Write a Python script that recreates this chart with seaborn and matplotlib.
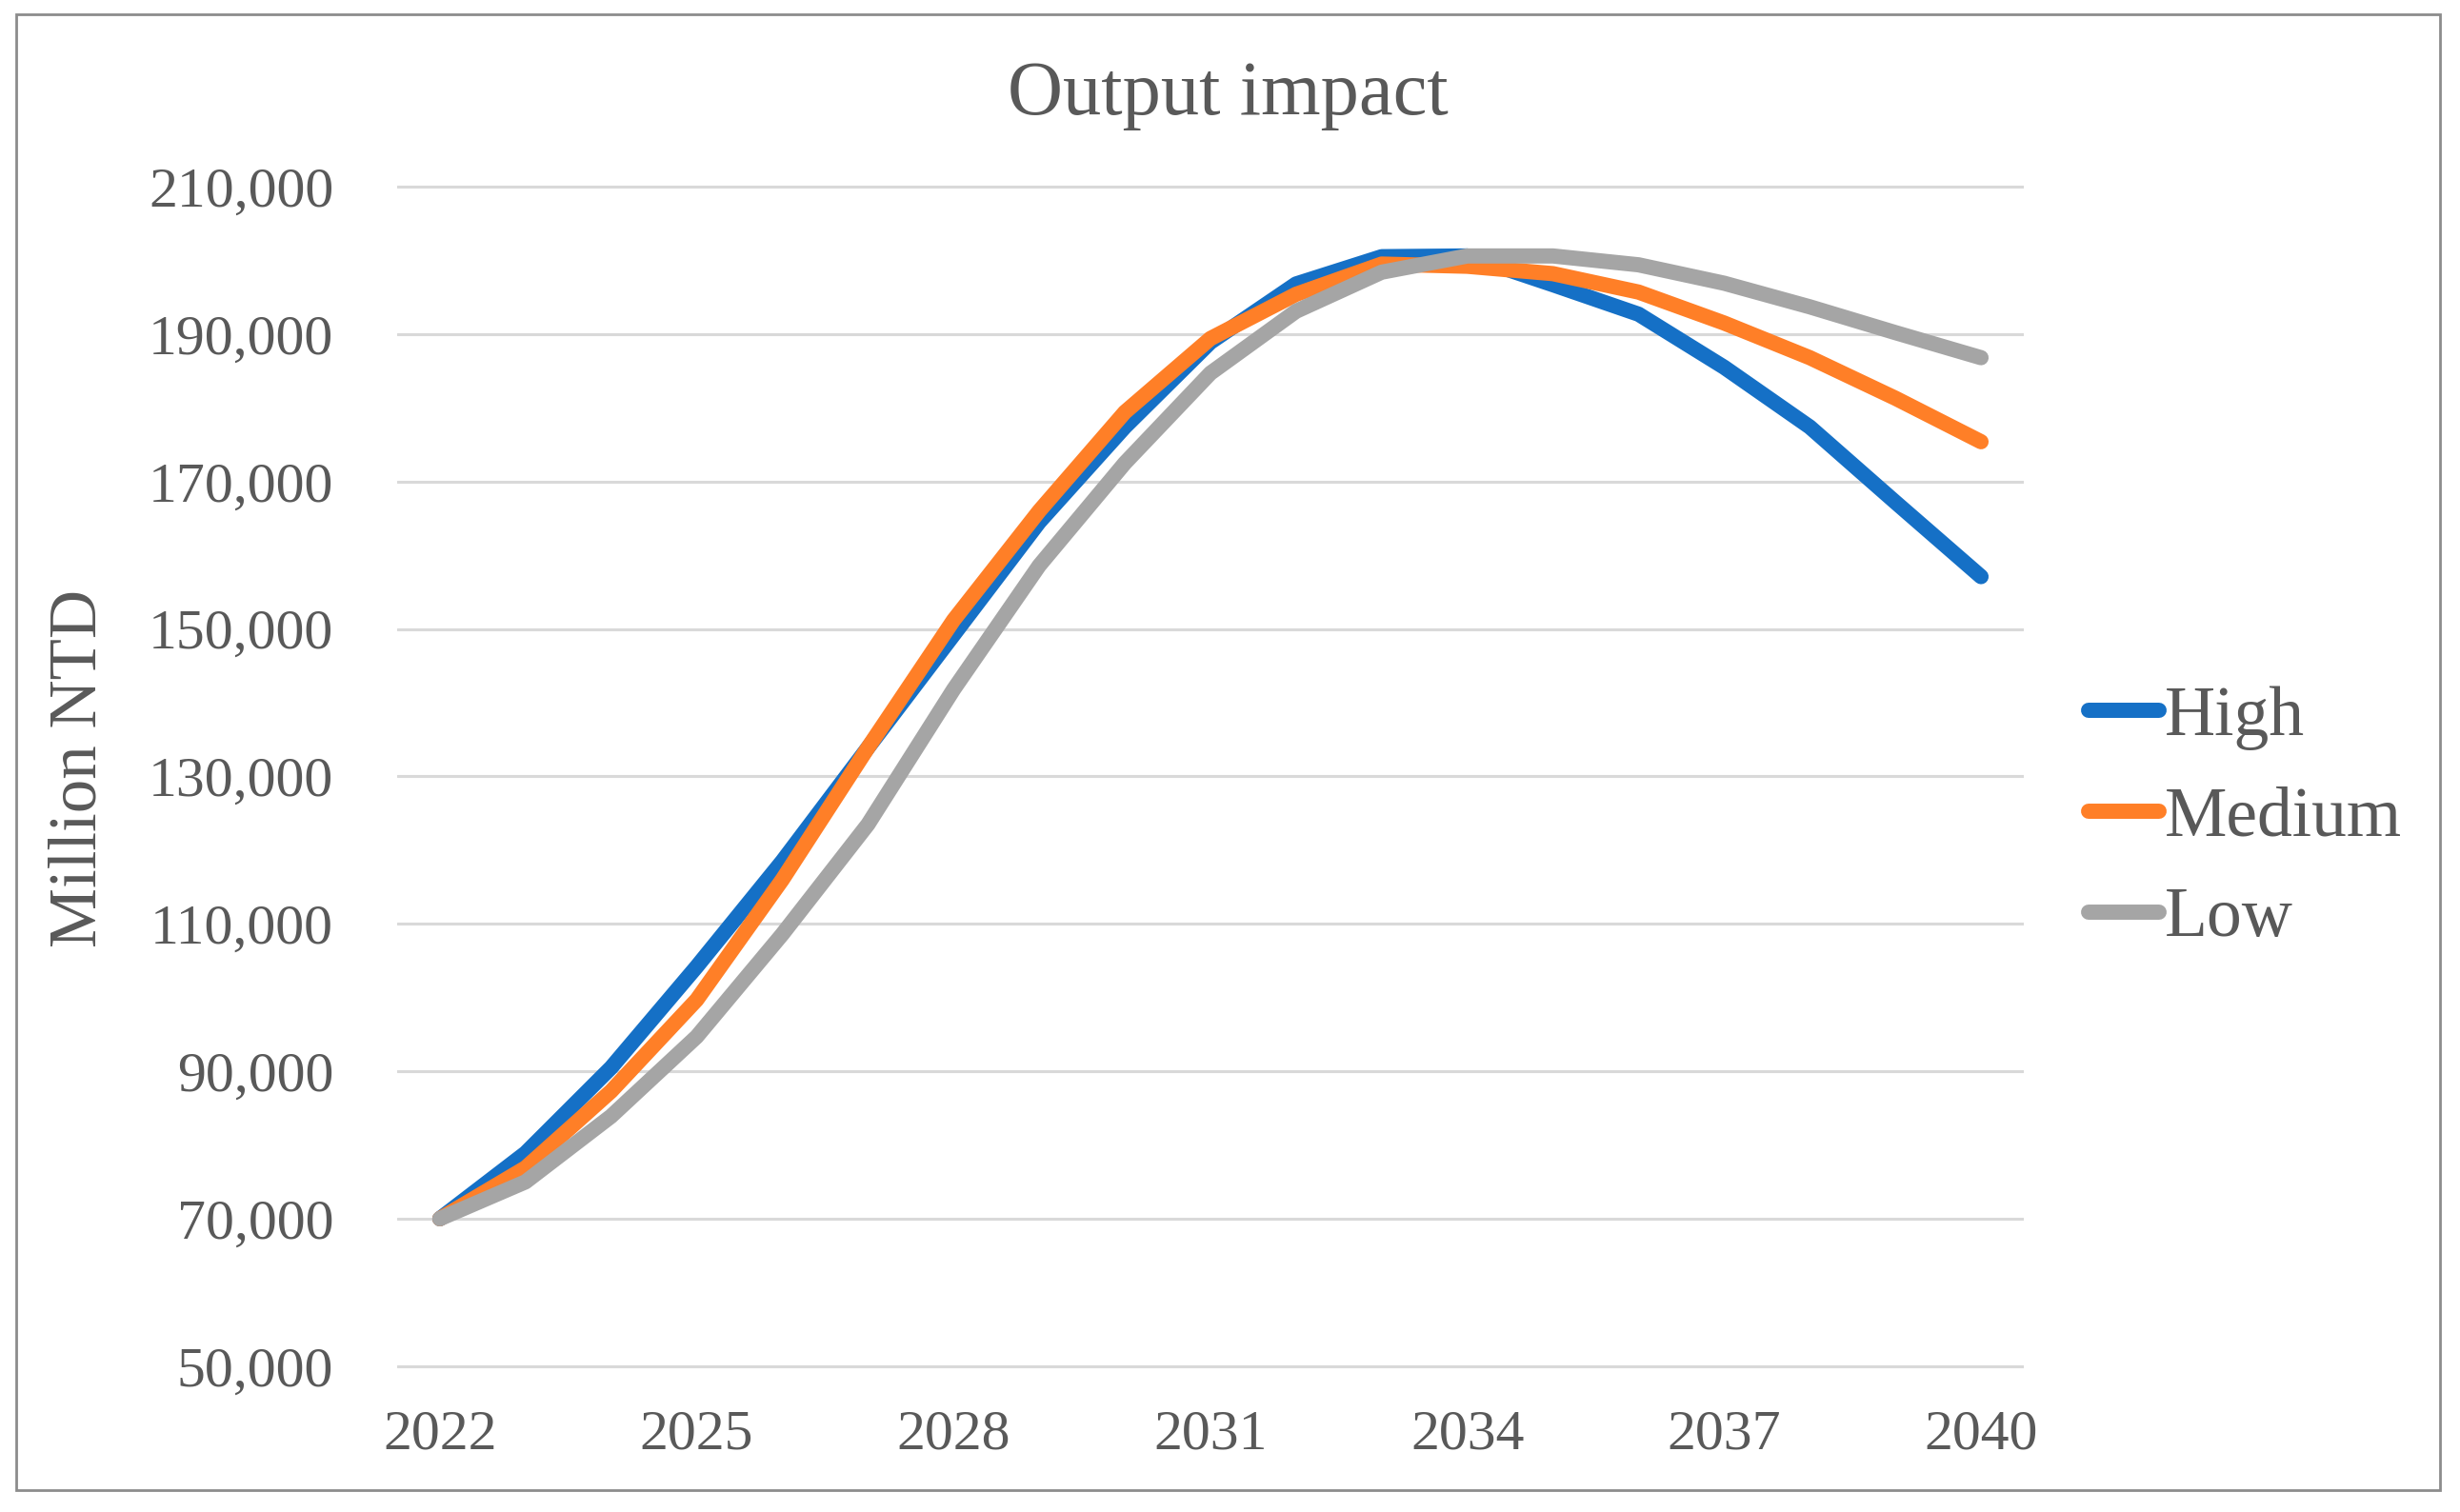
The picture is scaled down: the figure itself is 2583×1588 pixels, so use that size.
import matplotlib
matplotlib.use("Agg")
import matplotlib.pyplot as plt
import seaborn as sns
import pandas as pd
from matplotlib.patches import Rectangle

years = list(range(2022, 2041))
high = [70000, 78900, 90500, 104200, 118500, 133900, 149200, 164500, 177400, 188900,
        196800, 200500, 200600, 196700, 192700, 185500, 177400, 167200, 157100]
medium = [70000, 76900, 87300, 99700, 116000, 133900, 151200, 166000, 179400, 189400,
          195400, 199500, 199200, 198200, 195700, 191500, 186800, 181300, 175400]
low = [70000, 75000, 83900, 94700, 108600, 123500, 141800, 158600, 172500, 184700,
       193100, 198400, 200600, 200600, 199400, 196900, 193700, 190200, 186800]
series_names = ["High", "Medium", "Low"]
series_colors = ["#1570C6", "#FF7F27", "#A5A5A5"]
x_ticks = [2022, 2025, 2028, 2031, 2034, 2037, 2040]
y_ticks = [50000, 70000, 90000, 110000, 130000, 150000, 170000, 190000, 210000]
y_tick_labels = ["50,000", "70,000", "90,000", "110,000", "130,000", "150,000",
                 "170,000", "190,000", "210,000"]
title = "Output impact"
y_label = "Million NTD"

df = pd.DataFrame({
    "year": years * 3,
    "value": high + medium + low,
    "scenario": ["High"] * len(years) + ["Medium"] * len(years) + ["Low"] * len(years),
})

sns.set_style("white")
plt.rcParams["font.family"] = ["Liberation Serif", "DejaVu Serif"]
text_color = "#595959"
lw = 11.5

fig = plt.figure(figsize=(25.83, 15.88), dpi=100)
ax = fig.add_axes([0.1614, 0.0867, 0.6613, 0.7996])

sns.lineplot(data=df, x="year", y="value", hue="scenario", hue_order=series_names,
             palette=dict(zip(series_names, series_colors)), linewidth=lw,
             ax=ax, legend=False, solid_capstyle="round", solid_joinstyle="round", sort=False)

ax.set_xlim(2021.5, 2040.5)
ax.set_ylim(48000, 212000)
ax.set_yticks(y_ticks)
ax.set_yticklabels(y_tick_labels)
ax.set_xticks(x_ticks)
ax.set_xticklabels([str(t) for t in x_ticks])
ax.tick_params(axis="both", length=0, labelsize=43, colors=text_color)
ax.tick_params(axis="y", pad=48)
ax.tick_params(axis="x", pad=22)
ax.yaxis.grid(True, color="#D9D9D9", linewidth=2.2)
ax.xaxis.grid(False)
ax.set_axisbelow(True)
for s in ax.spines.values():
    s.set_visible(False)
ax.set_xlabel("")
ax.set_ylabel("")

fig.text(0.499, 0.937, title, ha="center", va="center", fontsize=58, color=text_color)
fig.text(0.032, 0.492, y_label, ha="center", va="center", rotation=90,
         fontsize=51, color=text_color)

handles = [plt.Line2D([0], [0], color=c, linewidth=lw, solid_capstyle="round")
           for c in series_colors]
leg = fig.legend(handles, series_names, loc="center left", bbox_to_anchor=(0.849, 0.4585),
                 frameon=False, fontsize=53, handlelength=1.0, handletextpad=0.08,
                 labelspacing=0.52, borderpad=0, borderaxespad=0)
for t in leg.get_texts():
    t.set_color(text_color)

fig.patches.append(Rectangle((0.0064, 0.0145), 0.9853, 0.9761, transform=fig.transFigure,
                             fill=False, edgecolor="#8C8C8C", linewidth=2.0))

fig.savefig("out.png", dpi=100)
